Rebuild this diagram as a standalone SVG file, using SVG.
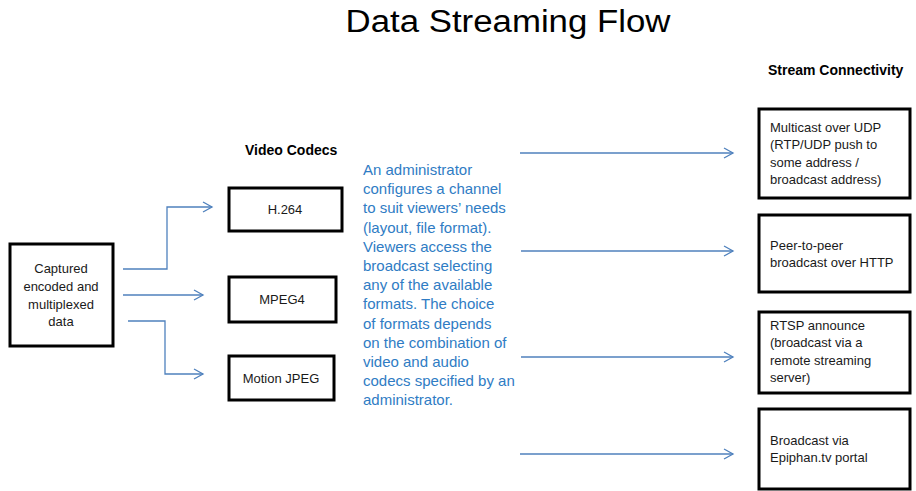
<svg xmlns="http://www.w3.org/2000/svg" width="916" height="491" viewBox="0 0 916 491">
<style>
.box{fill:#fff;stroke:#000;stroke-width:3}
.t{font-family:"Liberation Sans",Arial,sans-serif;font-size:13px;fill:#1a1a1a}
.c{text-anchor:middle}
.h{font-family:"Liberation Sans",Arial,sans-serif;font-size:14px;font-weight:bold;fill:#000}
.b{font-family:"Liberation Sans",Arial,sans-serif;font-size:15px;fill:#2f7cc4}
.ln{fill:none;stroke:#4f81bd;stroke-width:1.3;marker-end:url(#ah)}
</style>
<defs>
<marker id="ah" markerWidth="12" markerHeight="12" refX="10" refY="6" orient="auto" markerUnits="userSpaceOnUse">
<path d="M1,1 L10,6 L1,11" fill="none" stroke="#4f81bd" stroke-width="1.3"/>
</marker>
</defs>
<rect width="916" height="491" fill="#fff"/>
<text x="508" y="32" font-family="Liberation Sans,Arial,sans-serif" font-size="31" text-anchor="middle" textLength="325" lengthAdjust="spacingAndGlyphs">Data Streaming Flow</text>
<text class="h" x="245" y="155">Video Codecs</text>
<text class="h" x="768" y="75">Stream Connectivity</text>

<g id="connectors">
<path class="ln" d="M123,269 H167 V207 H212"/>
<path class="ln" d="M123,295 H203"/>
<path class="ln" d="M128,321 H165 V374 H203"/>
<path class="ln" d="M520,153 H733"/>
<path class="ln" d="M521,251 H733"/>
<path class="ln" d="M521,357 H733"/>
<path class="ln" d="M520,454 H733"/>
</g>

<g id="captured">
<rect class="box" x="10" y="244" width="103" height="102"/>
<text class="t c" x="61" y="273">Captured</text>
<text class="t c" x="61" y="291">encoded and</text>
<text class="t c" x="61" y="308.5">multiplexed</text>
<text class="t c" x="61" y="326">data</text>
</g>
<g id="h264">
<rect class="box" x="229" y="188" width="113" height="43"/>
<text class="t c" x="285" y="213.5">H.264</text>
</g>
<g id="mpeg4">
<rect class="box" x="229" y="277" width="107" height="45"/>
<text class="t c" x="282" y="303.5">MPEG4</text>
</g>
<g id="mjpeg">
<rect class="box" x="229" y="356" width="105" height="44"/>
<text class="t c" x="281" y="382.5">Motion JPEG</text>
</g>

<g id="note">
<text class="b" x="363" y="175">An administrator</text>
<text class="b" x="363" y="194.2">configures a channel</text>
<text class="b" x="363" y="213.4">to suit viewers’ needs</text>
<text class="b" x="363" y="232.6">(layout, file format).</text>
<text class="b" x="363" y="251.8">Viewers access the</text>
<text class="b" x="363" y="271">broadcast selecting</text>
<text class="b" x="363" y="290.2">any of the available</text>
<text class="b" x="363" y="309.4">formats. The choice</text>
<text class="b" x="363" y="328.6">of formats depends</text>
<text class="b" x="363" y="347.8">on the combination of</text>
<text class="b" x="363" y="367">video and audio</text>
<text class="b" x="363" y="386.2">codecs specified by an</text>
<text class="b" x="363" y="405.4">administrator.</text>
</g>

<g id="udp">
<rect class="box" x="759" y="109" width="151" height="89"/>
<text class="t" x="770" y="131.5">Multicast over UDP</text>
<text class="t" x="770" y="149">(RTP/UDP push to</text>
<text class="t" x="770" y="166.5">some address /</text>
<text class="t" x="770" y="184">broadcast address)</text>
</g>
<g id="p2p">
<rect class="box" x="759" y="215" width="151" height="77"/>
<text class="t" x="770" y="249.5">Peer-to-peer</text>
<text class="t" x="770" y="267">broadcast over HTTP</text>
</g>
<g id="rtsp">
<rect class="box" x="759" y="312" width="151" height="81"/>
<text class="t" x="770" y="329.5">RTSP announce</text>
<text class="t" x="770" y="347">(broadcast via a</text>
<text class="t" x="770" y="364.5">remote streaming</text>
<text class="t" x="770" y="382">server)</text>
</g>
<g id="portal">
<rect class="box" x="759" y="409" width="151" height="80"/>
<text class="t" x="770" y="444.5">Broadcast via</text>
<text class="t" x="770" y="462">Epiphan.tv portal</text>
</g>
</svg>
